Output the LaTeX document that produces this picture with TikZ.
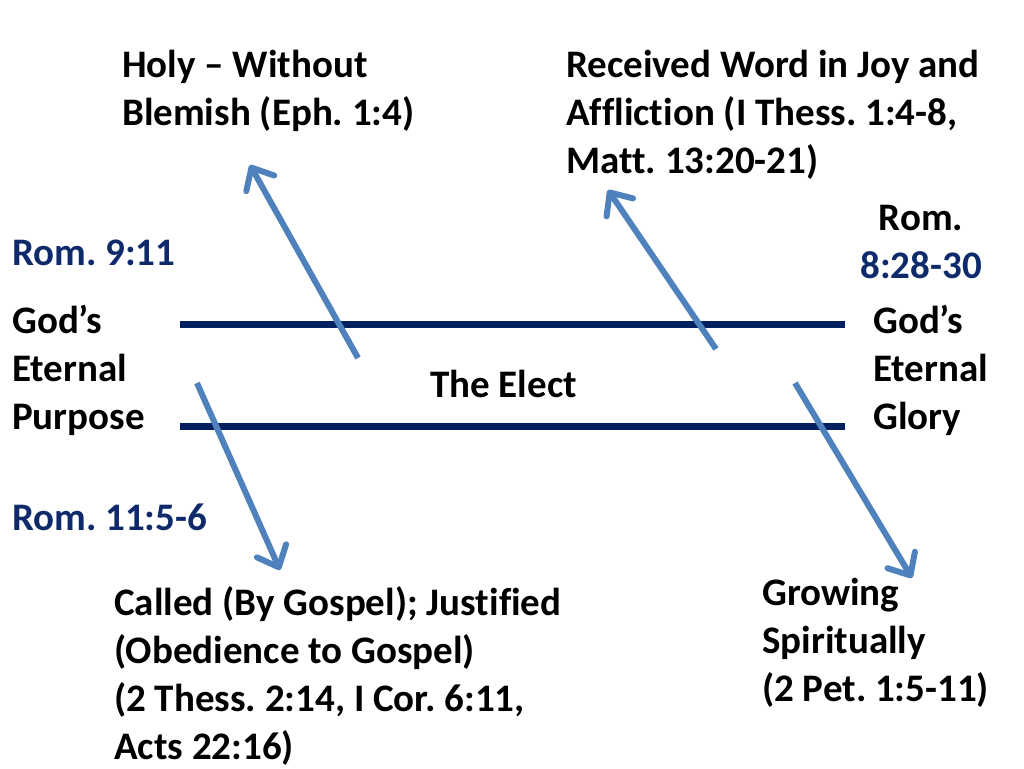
\documentclass[tikz,border=0pt]{standalone}
\usepackage{fontspec}
\setmainfont{Carlito}[Ligatures=NoCommon]
\usepackage{xcolor}
\usetikzlibrary{arrows.meta}
\definecolor{navyline}{HTML}{002060}
\definecolor{navytext}{HTML}{0F2A6B}
\definecolor{arrowblue}{HTML}{4F81BD}
\frenchspacing

\begin{document}
\begin{tikzpicture}[
      x=1pt, y=-1pt,
      txt/.style={anchor=base west, inner sep=0pt, align=left, font=\bfseries\fontsize{39}{48}\selectfont},
      ref/.style={txt, text=navytext},
      track/.style={draw=navyline, line width=7pt},
      move/.style={draw=arrowblue, line width=6pt, -{Straight Barb[length=18pt, width=32pt, line join=round, line cap=round]}}
    ]
    \useasboundingbox (0,0) rectangle (1024,768);

    % Side labels (placed at the baseline of their last line)
    \node[txt] (purpose) at (12,429) {God’s\\Eternal\\Purpose};
    \node[txt] (glory) at (873,429) {God’s\\Eternal\\Glory};
    \node[txt] (elect) at (430,397) {The Elect};

    % Scripture references
    \node[ref] (rom9) at (12,265) {Rom. 9:11};
    \node[ref] (rom11) at (12,530) {Rom. 11:5-6};
    \node[txt, anchor=base, align=center] (rom8) at (921,278) {Rom.\\\textcolor{navytext}{8:28-30}};

    % Outcome texts
    \node[txt] (holy) at (122,125) {Holy – Without\\Blemish (Eph. 1:4)};
    \node[txt] (word) at (566,173) {Received Word in Joy and\\Affliction (I Thess. 1:4-8,\\Matt. 13:20-21)};
    \node[txt] (called) at (114,759) {Called (By Gospel); Justified\\(Obedience to Gospel)\\(2 Thess. 2:14, I Cor. 6:11,\\Acts 22:16)};
    \node[txt] (grow) at (762,701) {Growing\\Spiritually\\(2 Pet. 1:5-11)};

    % Track of the elect
    \coordinate (t1) at (180,324);
    \coordinate (t2) at (845,324);
    \coordinate (b1) at (180,426);
    \coordinate (b2) at (845,426);
    \draw[track] (t1) -- (t2);
    \draw[track] (b1) -- (b2);

    % Arrows
    \coordinate (a1) at (358,358);
    \coordinate (h1) at (250,165);
    \coordinate (a2) at (716,349);
    \coordinate (h2) at (608,190);
    \coordinate (a3) at (197,383);
    \coordinate (h3) at (280,570);
    \coordinate (a4) at (795,383);
    \coordinate (h4) at (912,578);
    \draw[move] (a1) -- (h1);
    \draw[move] (a2) -- (h2);
    \draw[move] (a3) -- (h3);
    \draw[move] (a4) -- (h4);

  \end{tikzpicture}
\end{document}
